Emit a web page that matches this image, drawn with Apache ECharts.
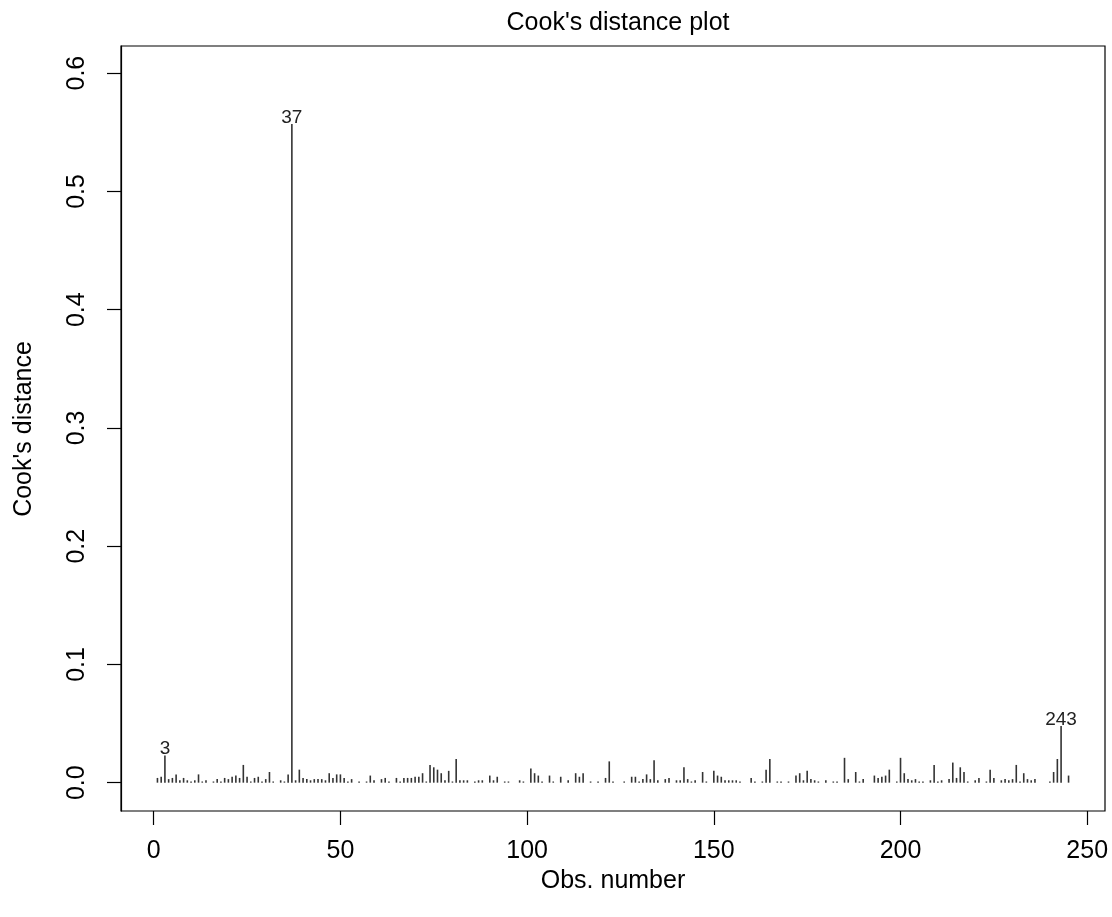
<!doctype html>
<html lang="en">
<head>
    <meta charset="UTF-8">
    <title>Cook's distance plot</title>
    <script src="https://cdn.jsdelivr.net/npm/echarts@6/dist/echarts.min.js"></script>
    <style>
        html, body { margin: 0; padding: 0; background: #fff; }
        #chart { width: 1112px; height: 917px; }
    </style>
</head>
<body>
<div id="chart"></div>
<script>
    // Cook's distance for obs 1..245
    const cooksDistance = [
        0.004, 0.005, 0.023, 0.003, 0.004, 0.007, 0.002, 0.004, 0.002, 0.001,
        0.002, 0.007, 0.001, 0.002, 0.000, 0.001, 0.003, 0.001, 0.004, 0.003,
        0.005, 0.006, 0.004, 0.015, 0.005, 0.001, 0.004, 0.005, 0.001, 0.003,
        0.009, 0.001, 0.000, 0.002, 0.001, 0.007, 0.557, 0.002, 0.011, 0.004,
        0.003, 0.002, 0.003, 0.003, 0.003, 0.002, 0.008, 0.004, 0.007, 0.007,
        0.004, 0.001, 0.003, 0.000, 0.001, 0.000, 0.001, 0.006, 0.002, 0.000,
        0.003, 0.004, 0.001, 0.000, 0.004, 0.001, 0.004, 0.004, 0.004, 0.005,
        0.005, 0.008, 0.001, 0.015, 0.013, 0.011, 0.008, 0.002, 0.010, 0.001,
        0.020, 0.002, 0.002, 0.002, 0.000, 0.001, 0.002, 0.002, 0.000, 0.006,
        0.002, 0.005, 0.000, 0.001, 0.001, 0.000, 0.000, 0.002, 0.001, 0.000,
        0.012, 0.008, 0.006, 0.001, 0.000, 0.006, 0.001, 0.000, 0.005, 0.000,
        0.002, 0.000, 0.008, 0.005, 0.008, 0.000, 0.001, 0.000, 0.001, 0.000,
        0.004, 0.018, 0.001, 0.000, 0.000, 0.001, 0.000, 0.005, 0.005, 0.001,
        0.003, 0.007, 0.003, 0.019, 0.002, 0.000, 0.003, 0.004, 0.000, 0.002,
        0.002, 0.013, 0.003, 0.001, 0.002, 0.000, 0.009, 0.001, 0.000, 0.010,
        0.006, 0.005, 0.002, 0.002, 0.002, 0.002, 0.001, 0.000, 0.000, 0.004,
        0.001, 0.000, 0.001, 0.011, 0.020, 0.000, 0.001, 0.001, 0.000, 0.001,
        0.000, 0.006, 0.008, 0.002, 0.010, 0.003, 0.002, 0.001, 0.000, 0.002,
        0.000, 0.001, 0.001, 0.000, 0.021, 0.003, 0.000, 0.009, 0.001, 0.003,
        0.000, 0.000, 0.006, 0.004, 0.005, 0.006, 0.011, 0.000, 0.001, 0.021,
        0.008, 0.003, 0.002, 0.003, 0.001, 0.001, 0.000, 0.002, 0.015, 0.001,
        0.002, 0.000, 0.003, 0.017, 0.004, 0.013, 0.009, 0.001, 0.000, 0.002,
        0.004, 0.000, 0.001, 0.011, 0.004, 0.000, 0.002, 0.003, 0.002, 0.003,
        0.015, 0.001, 0.008, 0.003, 0.002, 0.003, 0.000, 0.000, 0.000, 0.001,
        0.009, 0.020, 0.048, 0.000, 0.006
    ];
    const labelledObs = [3, 37, 243];
    const xTicks = [0, 50, 100, 150, 200, 250];
    const yTicks = [0, 0.1, 0.2, 0.3, 0.4, 0.5, 0.6];

    const font = "'Liberation Sans', Arial, Helvetica, sans-serif";

    // R style limits: data range padded by 4% each side
    const xMin = -8.76, xMax = 254.76;
    const yMax = 0.599;
    const yLo = -0.04 * yMax, yHi = yMax * 1.04;

    const seriesData = cooksDistance.map((v, i) => {
        const obs = i + 1;
        const item = { value: [obs, v] };
        if (labelledObs.includes(obs)) {
            item.label = {
                show: true,
                position: 'top',
                distance: -3,
                formatter: String(obs),
                fontSize: 19,
                color: '#222'
            };
        }
        return item;
    });

    const myChart = echarts.init(document.getElementById('chart'));
    const option = {
        animation: false,
        textStyle: { fontFamily: font },
        title: {
            text: "Cook's distance plot",
            left: 613,
            textAlign: 'center',
            top: 6,
            textStyle: { fontSize: 25, fontWeight: 'normal', color: '#000' }
        },
        grid: {
            left: 121, top: 46, width: 984, height: 765,
            outerBoundsMode: 'none',
            show: true, borderColor: '#000', borderWidth: 1.2
        },
        // y axis title drawn as rotated text, like R's ylab
        graphic: [{
            type: 'text',
            x: 24, y: 429,
            rotation: Math.PI / 2,
            style: {
                text: "Cook's distance",
                fontSize: 25, fontFamily: font, fill: '#000',
                textAlign: 'center', textVerticalAlign: 'middle'
            }
        }],
        xAxis: {
            type: 'value',
            min: xMin, max: xMax,
            name: 'Obs. number',
            nameLocation: 'middle',
            nameGap: 54,
            nameTextStyle: { fontSize: 25, color: '#000' },
            axisLine: { show: false, onZero: false },
            splitLine: { show: false },
            axisTick: { show: true, length: 14, customValues: xTicks, lineStyle: { color: '#000', width: 1.2 } },
            axisLabel: { customValues: xTicks, margin: 28, fontSize: 25, color: '#000' }
        },
        yAxis: {
            type: 'value',
            min: yLo, max: yHi,
            axisLine: { show: true, onZero: false, lineStyle: { color: '#000', width: 1.2 } },
            splitLine: { show: false },
            axisTick: { show: true, length: 14, customValues: yTicks, lineStyle: { color: '#000', width: 1.2 } },
            axisLabel: {
                customValues: yTicks, margin: 31, rotate: 90,
                fontSize: 25, color: '#000',
                formatter: v => v.toFixed(1)
            }
        },
        series: [{
            type: 'bar',
            data: seriesData,
            barWidth: 1.6,
            itemStyle: { color: '#333' },
            silent: true
        }]
    };
    myChart.setOption(option);
</script>
</body>
</html>
